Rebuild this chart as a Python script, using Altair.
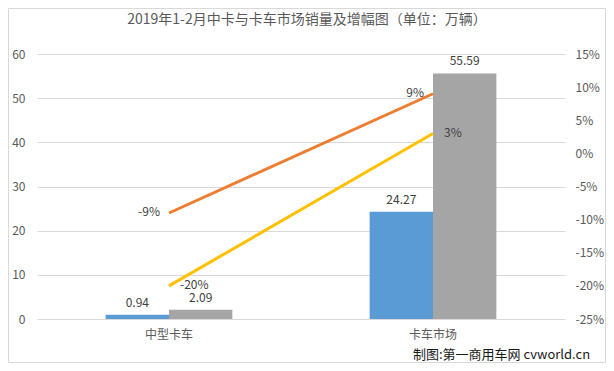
import altair as alt
import pandas as pd

# ---- data ----
categories = ["中型卡车", "卡车市场"]
bar_series = ["2月", "1-2月"]
bar_values_s1 = [0.94, 24.27]   # blue
bar_values_s2 = [2.09, 55.59]   # gray
line_series = ["2月增幅", "1-2月增幅"]
growth_s1 = [-0.09, 0.09]       # orange
growth_s2 = [-0.20, 0.03]       # yellow
left_ticks = [0, 10, 20, 30, 40, 50, 60]
right_ticks = [-0.25, -0.20, -0.15, -0.10, -0.05, 0.0, 0.05, 0.10, 0.15]

title_text = "2019年1-2月中卡与卡车市场销量及增幅图（单位：万辆）"
watermark_text = "制图:第一商用车网 cvworld.cn"

FONT = "Noto Sans CJK SC"
BLUE, GRAY, ORANGE, YELLOW = "#5B9BD5", "#A5A5A5", "#ED7D31", "#FFC000"

W, H = 528, 265
PL, PT, PR, PB = 29, 46, 41, 44

bar_df = pd.DataFrame({
    "cat": categories * 2,
    "series": [bar_series[0]] * 2 + [bar_series[1]] * 2,
    "value": bar_values_s1 + bar_values_s2,
})
line_df = pd.DataFrame({
    "cat": categories * 2,
    "series": [line_series[0]] * 2 + [line_series[1]] * 2,
    "growth": growth_s1 + growth_s2,
})
line_df["label"] = [f"{round(v * 100)}%" for v in line_df["growth"]]

x_enc = alt.X(
    "cat:N", sort=categories,
    scale=alt.Scale(paddingInner=0.52, paddingOuter=0.26),
    axis=alt.Axis(title=None, labelAngle=0, ticks=False, domain=False,
                  labelPadding=10, labelFontSize=12, labelColor="#595959",
                  labelFont=FONT, grid=False),
)
xoff_enc = alt.XOffset("series:N", sort=bar_series,
                       scale=alt.Scale(paddingInner=0, paddingOuter=0))
y_left = alt.Y(
    "value:Q", scale=alt.Scale(domain=[0, 60]),
    axis=alt.Axis(title=None, values=left_ticks, ticks=False, domain=False,
                  grid=True, gridColor="#D9D9D9", labelPadding=12,
                  labelFontSize=12, labelColor="#595959", labelFont=FONT),
)
y_right = alt.Y(
    "growth:Q", scale=alt.Scale(domain=[-0.25, 0.15]),
    axis=alt.Axis(title=None, orient="right", values=right_ticks, ticks=False,
                  domain=False, grid=False, labelPadding=10,
                  labelFontSize=12, labelColor="#595959", labelFont=FONT,
                  labelExpr="round(datum.value * 100) + '%'"),
)

bars = alt.Chart(bar_df).mark_bar().encode(
    x=x_enc, xOffset=xoff_enc, y=y_left,
    color=alt.Color("series:N", sort=bar_series,
                    scale=alt.Scale(domain=bar_series, range=[BLUE, GRAY]),
                    legend=None),
)
bar_text = alt.Chart(bar_df).mark_text(
    baseline="bottom", dy=-5, fontSize=12, color="#404040", font=FONT
).encode(
    x=x_enc, xOffset=xoff_enc, y=y_left,
    text=alt.Text("value:Q", format=".2f"),
)
bar_layer = alt.layer(bars, bar_text)

lines = alt.Chart(line_df).mark_line(strokeWidth=3).encode(
    x=x_enc, y=y_right,
    color=alt.Color("series:N", sort=line_series,
                    scale=alt.Scale(domain=line_series, range=[ORANGE, YELLOW]),
                    legend=None),
)
lbl_orange = alt.Chart(line_df).transform_filter(
    alt.datum.series == line_series[0]
).mark_text(align="right", baseline="middle", dx=-9, dy=-1,
            fontSize=12, color="#404040", font=FONT).encode(
    x=x_enc, y=y_right, text="label:N")
lbl_yellow = alt.Chart(line_df).transform_filter(
    alt.datum.series == line_series[1]
).mark_text(align="left", baseline="middle", dx=11, dy=-1,
            fontSize=12, color="#404040", font=FONT).encode(
    x=x_enc, y=y_right, text="label:N")
line_layer = alt.layer(lines, lbl_orange, lbl_yellow)

dummy = pd.DataFrame({"k": [0]})
border = alt.Chart(dummy).mark_rect(
    filled=False, stroke="#D9D9D9", strokeWidth=1
).encode(
    x=alt.value(-PL + 0.5), x2=alt.value(W + PR - 0.5),
    y=alt.value(-PT + 0.5), y2=alt.value(H + PB - 0.5),
)
title = alt.Chart(dummy).mark_text(
    align="center", baseline="middle", fontSize=14, color="#595959", font=FONT
).encode(
    x=alt.value(W / 2 + 6), y=alt.value(-PT + 12), text=alt.value(title_text)
)
watermark = alt.Chart(dummy).mark_text(
    align="left", baseline="middle", fontSize=13, color="#1A1A1A", font=FONT
).encode(
    x=alt.value(376), y=alt.value(H + 36), text=alt.value(watermark_text)
)

chart = alt.layer(border, title, bar_layer, line_layer, watermark).resolve_scale(
    y="independent", color="independent"
).properties(
    width=W, height=H,
    autosize=alt.AutoSizeParams(type="none"),
    padding={"left": PL, "top": PT, "right": PR, "bottom": PB},
).configure_view(stroke=None)

chart.save("out.html", embed_options={"renderer": "svg", "actions": False})
